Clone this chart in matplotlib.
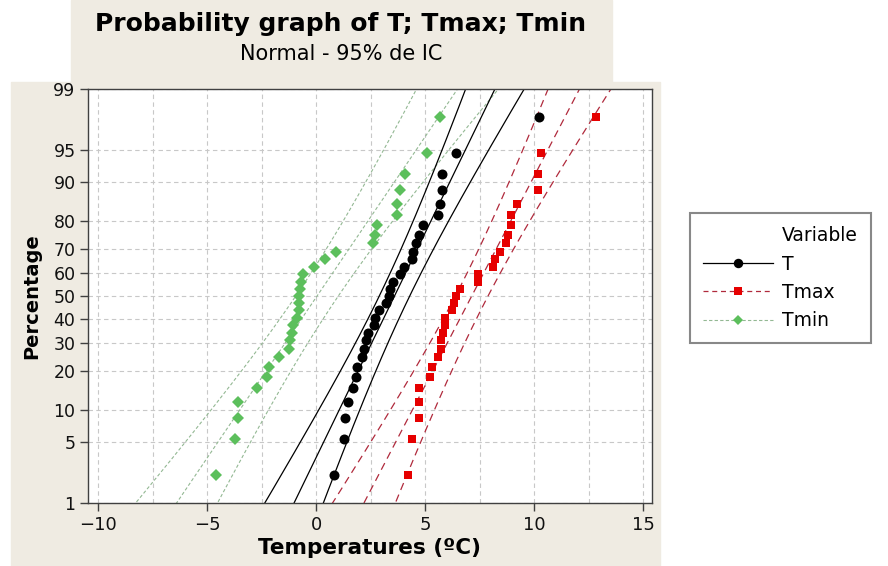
from statistics import NormalDist
import matplotlib
matplotlib.use("Agg")
import matplotlib.pyplot as plt
from matplotlib.lines import Line2D
from matplotlib.patches import Rectangle
from matplotlib.ticker import MultipleLocator, FixedLocator
import numpy as np

# sorted temperatures (ºC), 31 values each
t_vals = [0.80, 1.30, 1.33, 1.46, 1.69, 1.81, 1.87, 2.12, 2.19, 2.30, 2.39,
          2.64, 2.71, 2.88, 3.22, 3.36, 3.40, 3.51, 3.85, 4.04, 4.40, 4.42,
          4.60, 4.72, 4.89, 5.59, 5.70, 5.79, 5.79, 6.41, 10.21]
tmax_vals = [4.21, 4.40, 4.71, 4.71, 4.72, 5.21, 5.30, 5.59, 5.72, 5.72, 5.81,
             5.90, 5.93, 6.21, 6.31, 6.42, 6.59, 7.42, 7.42, 8.11, 8.22, 8.43,
             8.72, 8.80, 8.92, 8.92, 9.23, 10.19, 10.19, 10.31, 12.83]
tmin_vals = [-4.60, -3.71, -3.59, -3.57, -2.70, -2.27, -2.18, -1.69, -1.26,
             -1.20, -1.09, -1.07, -0.86, -0.78, -0.77, -0.77, -0.74, -0.71,
             -0.58, -0.09, 0.41, 0.92, 2.61, 2.68, 2.79, 3.71, 3.71, 3.83,
             4.09, 5.09, 5.70]

pct_ticks = [1, 5, 10, 20, 30, 40, 50, 60, 70, 80, 90, 95, 99]
x_ticks = [-10, -5, 0, 5, 10, 15]

nd = NormalDist()
BEIGE = "#efebe2"


def plot_series(ax, vals, color_pts, color_line, marker, ms, ls, lw):
    vals = np.sort(np.array(vals))
    n = len(vals)
    # Benard median ranks, like Minitab
    ranks = (np.arange(1, n + 1) - 0.3) / (n + 0.4)
    z = np.array([nd.inv_cdf(p) for p in ranks])
    mu = vals.mean()
    sd = vals.std(ddof=1)
    zz = np.linspace(-2.7, 2.7, 200)
    fit = mu + sd * zz
    se = sd * np.sqrt(1.0 / n + zz ** 2 / (2.0 * n))
    for line in (fit, fit - 1.96 * se, fit + 1.96 * se):
        ax.plot(line, zz, color=color_line, ls=ls, lw=lw, zorder=2)
    ax.plot(vals, z, ls="none", marker=marker, ms=ms, color=color_pts,
            mew=0, zorder=3)


fig = plt.figure(figsize=(8.88, 5.66), dpi=100)
fig.patch.set_facecolor("white")

# beige panels behind title and chart
fig.patches.append(Rectangle((71 / 888, 1 - 82 / 566), 541 / 888, 82 / 566,
                             transform=fig.transFigure, color=BEIGE, zorder=-5))
fig.patches.append(Rectangle((11 / 888, 0), 649 / 888, 1 - 82 / 566,
                             transform=fig.transFigure, color=BEIGE, zorder=-5))

ax = fig.add_axes([88 / 888, 1 - 503 / 566, 564 / 888, 414 / 566])
ax.set_facecolor("white")

plot_series(ax, tmin_vals, "#5cbf5c", "#93b893", "D", 6.2, (0, (3, 2)), 0.8)
plot_series(ax, t_vals, "black", "black", "o", 7.2, "-", 0.9)
plot_series(ax, tmax_vals, "#e60000", "#b02a3c", "s", 5.8, (0, (6, 4)), 0.9)

ax.set_xlim(-10.46, 15.4)
ax.set_ylim(nd.inv_cdf(0.01), nd.inv_cdf(0.99))
ax.xaxis.set_major_locator(FixedLocator(x_ticks))
ax.xaxis.set_minor_locator(MultipleLocator(2.5))
ax.yaxis.set_major_locator(FixedLocator([nd.inv_cdf(p / 100) for p in pct_ticks]))
ax.set_yticklabels([str(p) for p in pct_ticks])
ax.tick_params(axis="both", which="major", direction="out", length=6,
               width=1, color="#404040", labelsize=13, labelcolor="#111111")
ax.tick_params(axis="y", which="major", labelsize=12.5, pad=3)
ax.tick_params(axis="x", which="minor", length=0)
ax.grid(True, which="both", axis="x", color="#c8c8c8", ls=(0, (4, 3)), lw=0.8)
ax.grid(True, which="major", axis="y", color="#c8c8c8", ls=(0, (4, 3)), lw=0.8)
ax.set_axisbelow(True)
for side in ax.spines.values():
    side.set_color("#404040")
    side.set_linewidth(1)

ax.set_xlabel("Temperatures (ºC)", fontsize=15.5, fontweight="bold", labelpad=3)
ax.set_ylabel("Percentage", fontsize=14, fontweight="bold", labelpad=9)

fig.text(341 / 888, 1 - 24 / 566, "Probability graph of T; Tmax; Tmin",
         ha="center", va="center", fontsize=18, fontweight="bold")
fig.text(341 / 888, 1 - 54 / 566, "Normal - 95% de IC",
         ha="center", va="center", fontsize=15)

handles = [
    Line2D([], [], ls="none", marker="none"),
    Line2D([], [], color="black", lw=0.9, marker="o", ms=6.8, mew=0),
    Line2D([], [], color="#b02a3c", lw=0.9, ls=(0, (4, 3)), marker="s",
           ms=5.6, mfc="#e60000", mew=0),
    Line2D([], [], color="#93b893", lw=0.8, ls=(0, (3, 2)), marker="D",
           ms=5.6, mfc="#5cbf5c", mew=0),
]
leg = fig.legend(handles, ["Variable", "T", "Tmax", "Tmin"],
                 loc="upper left", bbox_to_anchor=(690 / 888, 1 - 213 / 566),
                 borderaxespad=0, fontsize=13.5, handlelength=3.7,
                 handletextpad=0.5, borderpad=0.7, labelspacing=0.5,
                 fancybox=False, framealpha=1, edgecolor="#888888")
leg.get_frame().set_linewidth(1.5)

fig.savefig("out.png", dpi=100, facecolor=fig.get_facecolor())
